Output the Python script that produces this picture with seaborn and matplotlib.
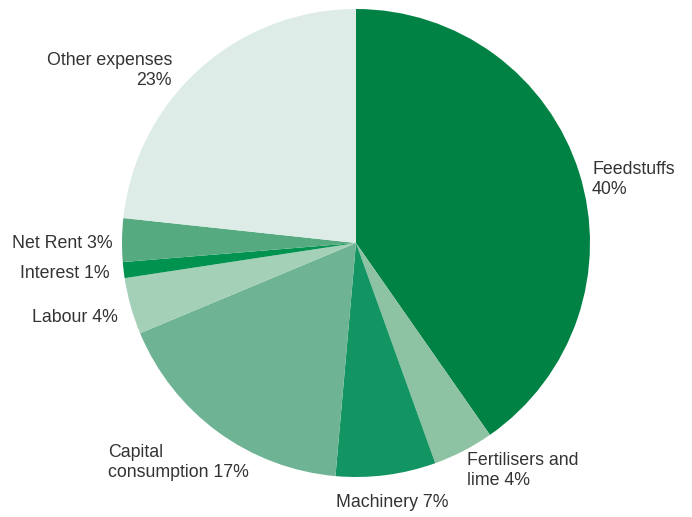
import matplotlib
matplotlib.use("Agg")
import matplotlib.pyplot as plt
import seaborn as sns

sns.set_style("white")
plt.rcParams['font.family'] = ['Liberation Sans', 'DejaVu Sans']

categories = ["Feedstuffs", "Fertilisers and\nlime", "Machinery", "Capital\nconsumption",
              "Labour", "Interest", "Net Rent", "Other expenses\n"]
values = [40.3, 4.2, 6.9, 17.3, 3.9, 1.1, 3.0, 23.3]
pct_labels = ["40%", "4%", "7%", "17%", "4%", "1%", "3%", "23%"]
colors = ["#008244", "#8DC2A3", "#139463", "#6EB394", "#A4D0B8", "#00924F", "#55AA80", "#DDECE6"]

fig = plt.figure(figsize=(6.92, 5.17), dpi=100)
cx, cy, r = 356, 243, 234
W, H = 692, 517
ax = fig.add_axes([(cx - r) / W, (H - cy - r) / H, 2 * r / W, 2 * r / H])
ax.pie(values, colors=colors, startangle=90, counterclock=False, radius=1,
       wedgeprops=dict(linewidth=0))
ax.set_xlim(-1, 1)
ax.set_ylim(-1, 1)
ax.axis("off")

tc = "#333333"
fs = 12.8
texts = [
    ("Feedstuffs\n40%", 1.009, 0.272, "left"),
    ("Fertilisers and\nlime 4%", 0.474, -0.974, "left"),
    ("Machinery 7%", 0.154, -1.111, "center"),
    ("Capital\nconsumption 17%", -1.06, -0.938, "left"),
    ("Labour 4%", -1.017, -0.32, "right"),
    ("Interest 1%", -1.051, -0.132, "right"),
    ("Net Rent 3%", -1.038, 0.0, "right"),
    ("Other expenses\n23%", -0.786, 0.739, "right"),
]
for t, x, y, ha in texts:
    ax.text(x, y, t, ha=ha, va="center", fontsize=fs, color=tc, linespacing=1.22,
            multialignment=ha if ha != "center" else "center", clip_on=False)

fig.savefig("out.png", dpi=100)
